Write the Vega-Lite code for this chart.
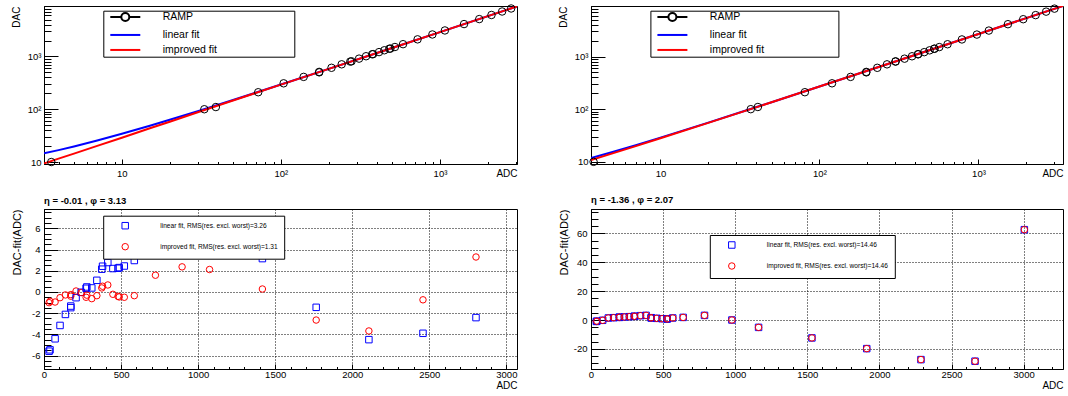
{
  "$schema": "https://vega.github.io/schema/vega-lite/v6.json",
  "background": "white",
  "padding": {"left": 10, "top": 0, "right": 0, "bottom": 0},
  "config": {
    "font": "Liberation Sans",
    "view": {"stroke": "black", "strokeWidth": 1},
    "axis": {
      "domainColor": "black", "domainWidth": 1, "tickColor": "black", "tickWidth": 1,
      "labelColor": "black", "labelFontSize": 9.5, "labelFont": "Liberation Sans",
      "titleColor": "black", "titleFontSize": 10, "titleFontWeight": "normal", "titleFont": "Liberation Sans",
      "labelOverlap": false, "labelFlush": false, "labelBound": false,
      "gridColor": "black", "gridDash": [1, 2], "gridOpacity": 1, "gridWidth": 1
    },
    "legend": {"labelFont": "Liberation Sans", "labelColor": "black"},
    "title": {"font": "Liberation Sans", "color": "black"}
  },
  "datasets": {
    "left": [
      {"adc": 3.6, "dac": 10, "lin": null, "imp": null},
      {"adc": 33, "dac": 100, "lin": -5.59, "imp": -1.01},
      {"adc": 39, "dac": 110, "lin": -5.46, "imp": -0.88},
      {"adc": 72, "dac": 210, "lin": -4.42, "imp": -0.95},
      {"adc": 104, "dac": 310, "lin": -3.16, "imp": -0.54},
      {"adc": 139, "dac": 410, "lin": -2.12, "imp": -0.28},
      {"adc": 174, "dac": 500, "lin": -1.48, "imp": -0.25},
      {"adc": 174, "dac": 510, "lin": -1.33, "imp": -0.4},
      {"adc": 208, "dac": 610, "lin": -0.54, "imp": 0.09},
      {"adc": 241, "dac": 710, "lin": -0.03, "imp": -0.06},
      {"adc": 273, "dac": 800, "lin": 0.35, "imp": -0.5},
      {"adc": 278, "dac": 810, "lin": 0.47, "imp": -0.3},
      {"adc": 310, "dac": 910, "lin": 0.38, "imp": -0.63},
      {"adc": 343, "dac": 1010, "lin": 1.1, "imp": -0.35},
      {"adc": 375, "dac": 1100, "lin": 2.15, "imp": 0.38},
      {"adc": 380, "dac": 1110, "lin": 2.43, "imp": 0.54},
      {"adc": 414, "dac": 1210, "lin": 2.78, "imp": 0.66},
      {"adc": 447, "dac": 1310, "lin": 2.21, "imp": -0.22},
      {"adc": 480, "dac": 1400, "lin": 2.24, "imp": -0.41},
      {"adc": 488, "dac": 1410, "lin": 2.3, "imp": -0.47},
      {"adc": 521, "dac": 1510, "lin": 2.45, "imp": -0.5},
      {"adc": 586, "dac": 1710, "lin": 2.97, "imp": -0.35},
      {"adc": 723, "dac": 2110, "lin": 5.0, "imp": 1.58},
      {"adc": 896, "dac": 2610, "lin": 6.0, "imp": 2.37},
      {"adc": 1074, "dac": 3110, "lin": 5.7, "imp": 2.12},
      {"adc": 1417, "dac": 4110, "lin": 3.15, "imp": 0.28},
      {"adc": 1766, "dac": 5110, "lin": -1.45, "imp": -2.65},
      {"adc": 2108, "dac": 6110, "lin": -4.5, "imp": -3.68},
      {"adc": 2459, "dac": 7110, "lin": -3.9, "imp": -0.74},
      {"adc": 2803, "dac": 8110, "lin": -2.42, "imp": 3.3}
    ],
    "right": [
      {"adc": 3.8, "dac": 10, "lin": null, "imp": null},
      {"adc": 37, "dac": 100, "lin": -1.0, "imp": -1.0},
      {"adc": 41, "dac": 110, "lin": -0.8, "imp": -0.8},
      {"adc": 81, "dac": 210, "lin": -0.2, "imp": -0.2},
      {"adc": 120, "dac": 310, "lin": 1.4, "imp": 1.4},
      {"adc": 157, "dac": 410, "lin": 1.6, "imp": 1.6},
      {"adc": 197, "dac": 500, "lin": 1.8, "imp": 1.8},
      {"adc": 197, "dac": 510, "lin": 2.0, "imp": 2.0},
      {"adc": 231, "dac": 610, "lin": 2.1, "imp": 2.1},
      {"adc": 266, "dac": 710, "lin": 2.3, "imp": 2.3},
      {"adc": 301, "dac": 800, "lin": 2.5, "imp": 2.5},
      {"adc": 301, "dac": 810, "lin": 2.6, "imp": 2.6},
      {"adc": 343, "dac": 910, "lin": 3.0, "imp": 3.0},
      {"adc": 382, "dac": 1010, "lin": 3.2, "imp": 3.2},
      {"adc": 417, "dac": 1100, "lin": 1.4, "imp": 1.4},
      {"adc": 417, "dac": 1110, "lin": 1.6, "imp": 1.6},
      {"adc": 456, "dac": 1210, "lin": 1.15, "imp": 1.15},
      {"adc": 493, "dac": 1310, "lin": 0.9, "imp": 0.9},
      {"adc": 528, "dac": 1400, "lin": 0.7, "imp": 0.7},
      {"adc": 528, "dac": 1410, "lin": 0.8, "imp": 0.8},
      {"adc": 567, "dac": 1510, "lin": 1.4, "imp": 1.4},
      {"adc": 639, "dac": 1710, "lin": 1.8, "imp": 1.8},
      {"adc": 787, "dac": 2110, "lin": 3.2, "imp": 3.2},
      {"adc": 977, "dac": 2610, "lin": 0.0, "imp": 0.0},
      {"adc": 1162, "dac": 3110, "lin": -5.1, "imp": -5.1},
      {"adc": 1532, "dac": 4110, "lin": -12.4, "imp": -12.4},
      {"adc": 1912, "dac": 5110, "lin": -19.8, "imp": -19.8},
      {"adc": 2288, "dac": 6110, "lin": -27.4, "imp": -27.4},
      {"adc": 2663, "dac": 7110, "lin": -28.5, "imp": -28.5},
      {"adc": 3005, "dac": 8110, "lin": 62.5, "imp": 62.5}
    ],
    "linLeft": [
      {"adc": 3.24, "dac": 14.6}, {"adc": 4, "dac": 16.8}, {"adc": 5, "dac": 19.7},
      {"adc": 7, "dac": 25.5}, {"adc": 10, "dac": 34.2}, {"adc": 15, "dac": 48.6},
      {"adc": 20, "dac": 63}, {"adc": 30, "dac": 91.9}, {"adc": 50, "dac": 149.6},
      {"adc": 70, "dac": 207}, {"adc": 100, "dac": 294}, {"adc": 200, "dac": 582},
      {"adc": 500, "dac": 1448}, {"adc": 1000, "dac": 2890}, {"adc": 3050, "dac": 8900}
    ],
    "impLeft": [
      {"adc": 3.24, "dac": 9.4}, {"adc": 4, "dac": 11.6}, {"adc": 5, "dac": 14.4},
      {"adc": 7, "dac": 20.2}, {"adc": 10, "dac": 28.9}, {"adc": 15, "dac": 43.5},
      {"adc": 20, "dac": 58}, {"adc": 30, "dac": 87.5}, {"adc": 50, "dac": 146.5},
      {"adc": 70, "dac": 205}, {"adc": 100, "dac": 293}, {"adc": 200, "dac": 582},
      {"adc": 500, "dac": 1448}, {"adc": 1000, "dac": 2890}, {"adc": 3050, "dac": 8900}
    ],
    "linRight": [
      {"adc": 3.66, "dac": 11.8}, {"adc": 5, "dac": 15.4}, {"adc": 7, "dac": 20.7},
      {"adc": 10, "dac": 28.8}, {"adc": 20, "dac": 55.5}, {"adc": 50, "dac": 135.8},
      {"adc": 100, "dac": 269.5}, {"adc": 300, "dac": 804.5}, {"adc": 1000, "dac": 2677},
      {"adc": 3400, "dac": 9097}
    ],
    "impRight": [
      {"adc": 3.66, "dac": 10.8}, {"adc": 5, "dac": 14.5}, {"adc": 7, "dac": 19.9},
      {"adc": 10, "dac": 28.1}, {"adc": 20, "dac": 55}, {"adc": 50, "dac": 135.4},
      {"adc": 100, "dac": 269.2}, {"adc": 300, "dac": 804.3}, {"adc": 1000, "dac": 2677},
      {"adc": 3400, "dac": 9097}
    ]
  },
  "resolve": {
    "scale": {"color": "independent", "shape": "independent"},
    "legend": {"color": "independent", "shape": "independent"}
  },
  "columns": 2,
  "spacing": {"row": 45, "column": 74},
  "bounds": "flush",
  "concat": [
    {
      "width": 473, "height": 158,
      "encoding": {
        "x": {"field": "adc", "type": "quantitative",
          "scale": {"type": "log", "domain": [3.24, 3050], "nice": false},
          "axis": {
            "values": [4,5,6,7,8,9,10,20,30,40,50,60,70,80,90,100,200,300,400,500,600,700,800,900,1000,2000,3000],
            "labelExpr": "datum.value == 10 ? '10' : datum.value == 100 ? '10²' : datum.value == 1000 ? '10³' : ''",
            "tickSize": {"condition": {"test": "datum.value == 10 || datum.value == 100 || datum.value == 1000", "value": -5}, "value": -2.5},
            "labelPadding": 9.5, "grid": false,
            "title": "ADC", "titleAnchor": "end", "titleAlign": "right", "titleBaseline": "middle", "titleX": 473, "titleY": 9
          }},
        "y": {"field": "dac", "type": "quantitative",
          "scale": {"type": "log", "domain": [9.17, 9040], "nice": false},
          "axis": {
            "values": [10,20,30,40,50,60,70,80,90,100,200,300,400,500,600,700,800,900,1000,2000,3000,4000,5000,6000,7000,8000,9000],
            "labelExpr": "datum.value == 10 ? '10' : datum.value == 100 ? '10²' : datum.value == 1000 ? '10³' : ''",
            "tickSize": {"condition": {"test": "datum.value == 10 || datum.value == 100 || datum.value == 1000", "value": -14}, "value": -7},
            "labelPadding": 17, "grid": false,
            "title": "DAC", "titleAnchor": "end", "titleAlign": "right", "titleAngle": 270, "titleBaseline": "middle", "titleX": -28, "titleY": 0
          }}
      },
      "layer": [
        {"data": {"name": "linLeft"}, "mark": {"type": "line", "strokeWidth": 2, "clip": true},
          "encoding": {"color": {"datum": "linear fit", "type": "nominal",
            "scale": {"domain": ["RAMP", "linear fit", "improved fit"], "range": ["#000000", "#0000ff", "#ff0000"]},
            "legend": {
              "title": null, "orient": "none", "legendX": 59.3, "legendY": 4.7,
              "fillColor": "white", "strokeColor": "black", "padding": 1, "rowPadding": 4,
              "symbolSize": 64, "symbolStrokeWidth": 2, "symbolOffset": 15.75, "labelOffset": 32.2,
              "labelFontSize": 10.5, "labelLimit": 400,
              "labelExpr": "datum.label + '\u00a0\u00a0\u00a0\u00a0\u00a0\u00a0\u00a0\u00a0\u00a0\u00a0\u00a0\u00a0\u00a0\u00a0\u00a0\u00a0\u00a0\u00a0\u00a0\u00a0\u00a0\u00a0\u00a0\u00a0\u00a0\u00a0\u200b'",
              "encode": {"symbols": {"update": {
                "shape": {"signal": "datum.value === 'RAMP' ? 'M-3.75,0H-1M1,0H3.75M1,0A1,1,0,1,1,-1,0A1,1,0,1,1,1,0' : 'M-3.75,0H3.75'"},
                "fill": {"value": "transparent"}}}}
            }}}},
        {"data": {"name": "impLeft"}, "mark": {"type": "line", "strokeWidth": 2, "clip": true},
          "encoding": {"color": {"datum": "improved fit", "type": "nominal"}}},
        {"data": {"name": "left"}, "mark": {"type": "point", "shape": "circle", "filled": false, "size": 56, "strokeWidth": 1, "opacity": 1},
          "encoding": {"color": {"datum": "RAMP", "type": "nominal"}}}
      ]
    },
    {
      "width": 472, "height": 158,
      "encoding": {
        "x": {"field": "adc", "type": "quantitative",
          "scale": {"type": "log", "domain": [3.66, 3400], "nice": false},
          "axis": {
            "values": [4,5,6,7,8,9,10,20,30,40,50,60,70,80,90,100,200,300,400,500,600,700,800,900,1000,2000,3000],
            "labelExpr": "datum.value == 10 ? '10' : datum.value == 100 ? '10²' : datum.value == 1000 ? '10³' : ''",
            "tickSize": {"condition": {"test": "datum.value == 10 || datum.value == 100 || datum.value == 1000", "value": -5}, "value": -2.5},
            "labelPadding": 9.5, "grid": false,
            "title": "ADC", "titleAnchor": "end", "titleAlign": "right", "titleBaseline": "middle", "titleX": 472, "titleY": 9
          }},
        "y": {"field": "dac", "type": "quantitative",
          "scale": {"type": "log", "domain": [9.1, 9100], "nice": false},
          "axis": {
            "values": [10,20,30,40,50,60,70,80,90,100,200,300,400,500,600,700,800,900,1000,2000,3000,4000,5000,6000,7000,8000,9000],
            "labelExpr": "datum.value == 10 ? '10' : datum.value == 100 ? '10²' : datum.value == 1000 ? '10³' : ''",
            "tickSize": {"condition": {"test": "datum.value == 10 || datum.value == 100 || datum.value == 1000", "value": -14}, "value": -7},
            "labelPadding": 17, "grid": false,
            "title": "DAC", "titleAnchor": "end", "titleAlign": "right", "titleAngle": 270, "titleBaseline": "middle", "titleX": -28, "titleY": 0
          }}
      },
      "layer": [
        {"data": {"name": "linRight"}, "mark": {"type": "line", "strokeWidth": 2, "clip": true},
          "encoding": {"color": {"datum": "linear fit", "type": "nominal",
            "scale": {"domain": ["RAMP", "linear fit", "improved fit"], "range": ["#000000", "#0000ff", "#ff0000"]},
            "legend": {
              "title": null, "orient": "none", "legendX": 59.4, "legendY": 4.7,
              "fillColor": "white", "strokeColor": "black", "padding": 1, "rowPadding": 4,
              "symbolSize": 64, "symbolStrokeWidth": 2, "symbolOffset": 15.75, "labelOffset": 32.2,
              "labelFontSize": 10.5, "labelLimit": 400,
              "labelExpr": "datum.label + '\u00a0\u00a0\u00a0\u00a0\u00a0\u00a0\u00a0\u00a0\u00a0\u00a0\u00a0\u00a0\u00a0\u00a0\u00a0\u00a0\u00a0\u00a0\u00a0\u00a0\u00a0\u00a0\u00a0\u00a0\u00a0\u200b'",
              "encode": {"symbols": {"update": {
                "shape": {"signal": "datum.value === 'RAMP' ? 'M-3.75,0H-1M1,0H3.75M1,0A1,1,0,1,1,-1,0A1,1,0,1,1,1,0' : 'M-3.75,0H3.75'"},
                "fill": {"value": "transparent"}}}}
            }}}},
        {"data": {"name": "impRight"}, "mark": {"type": "line", "strokeWidth": 2, "clip": true},
          "encoding": {"color": {"datum": "improved fit", "type": "nominal"}}},
        {"data": {"name": "right"}, "mark": {"type": "point", "shape": "circle", "filled": false, "size": 56, "strokeWidth": 1, "opacity": 1},
          "encoding": {"color": {"datum": "RAMP", "type": "nominal"}}}
      ]
    },
    {
      "width": 473, "height": 160,
      "title": {"text": "η = -0.01 , φ = 3.13", "anchor": "start", "frame": "group", "fontSize": 9.5, "fontWeight": "bold", "offset": 2},
      "data": {"name": "left"},
      "transform": [{"fold": ["lin", "imp"], "as": ["fit", "res"]}],
      "mark": {"type": "point", "filled": false, "size": 42, "strokeWidth": 1, "opacity": 1},
      "encoding": {
        "x": {"field": "adc", "type": "quantitative",
          "scale": {"domain": [0, 3069], "nice": false, "zero": false},
          "axis": {
            "values": [0,100,200,300,400,500,600,700,800,900,1000,1100,1200,1300,1400,1500,1600,1700,1800,1900,2000,2100,2200,2300,2400,2500,2600,2700,2800,2900,3000],
            "labelExpr": "datum.value % 500 == 0 ? '' + datum.value : ''",
            "tickSize": {"condition": {"test": "datum.value % 500 == 0", "value": -5}, "value": -2.5},
            "labelPadding": 5, "grid": true,
            "gridOpacity": {"condition": {"test": "datum.value % 500 == 0", "value": 1}, "value": 0},
            "title": "ADC", "titleAnchor": "end", "titleAlign": "right", "titleBaseline": "middle", "titleX": 473, "titleY": 16
          }},
        "y": {"field": "res", "type": "quantitative",
          "scale": {"domain": [-7.27, 7.83], "nice": false, "zero": false},
          "axis": {
            "values": [-7,-6.5,-6,-5.5,-5,-4.5,-4,-3.5,-3,-2.5,-2,-1.5,-1,-0.5,0,0.5,1,1.5,2,2.5,3,3.5,4,4.5,5,5.5,6,6.5,7,7.5],
            "labelExpr": "datum.value % 2 == 0 ? '' + datum.value : ''",
            "tickSize": {"condition": {"test": "datum.value % 2 == 0", "value": -14}, "value": -7},
            "labelPadding": 18, "grid": true,
            "gridOpacity": {"condition": {"test": "datum.value % 2 == 0", "value": 1}, "value": 0},
            "title": "DAC-fit(ADC)", "titleFontSize": 11, "titleAnchor": "end", "titleAlign": "right", "titleAngle": 270, "titleBaseline": "middle", "titleX": -27, "titleY": 0
          }},
        "color": {"field": "fit", "type": "nominal",
          "scale": {"domain": ["lin", "imp"], "range": ["#0000ff", "#ff0000"]},
          "legend": {
            "title": null, "orient": "none", "legendX": 59.2, "legendY": 6.7,
            "fillColor": "white", "strokeColor": "black", "padding": 6, "rowPadding": 9,
            "symbolSize": 42, "symbolStrokeWidth": 1, "symbolOffset": 12, "labelOffset": 31,
            "labelFontSize": 6.6, "labelLimit": 400,
            "labelExpr": "datum.label == 'lin' ? 'linear fit, RMS(res. excl. worst)=3.26' : 'improved fit, RMS(res. excl. worst)=1.31'"
          }},
        "shape": {"field": "fit", "type": "nominal",
          "scale": {"domain": ["lin", "imp"], "range": ["square", "circle"]},
          "legend": {
            "title": null, "orient": "none", "legendX": 59.2, "legendY": 6.7,
            "fillColor": "white", "strokeColor": "black", "padding": 6, "rowPadding": 9,
            "symbolSize": 42, "symbolStrokeWidth": 1, "symbolOffset": 12, "labelOffset": 31,
            "labelFontSize": 6.6, "labelLimit": 400,
            "labelExpr": "datum.label == 'lin' ? 'linear fit, RMS(res. excl. worst)=3.26' : 'improved fit, RMS(res. excl. worst)=1.31'"
          }}
      }
    },
    {
      "width": 472, "height": 160,
      "title": {"text": "η = -1.36 , φ = 2.07", "anchor": "start", "frame": "group", "fontSize": 9.5, "fontWeight": "bold", "offset": 2},
      "data": {"name": "right"},
      "transform": [{"fold": ["lin", "imp"], "as": ["fit", "res"]}],
      "mark": {"type": "point", "filled": false, "size": 42, "strokeWidth": 1, "opacity": 1},
      "encoding": {
        "x": {"field": "adc", "type": "quantitative",
          "scale": {"domain": [0, 3273], "nice": false, "zero": false},
          "axis": {
            "values": [0,100,200,300,400,500,600,700,800,900,1000,1100,1200,1300,1400,1500,1600,1700,1800,1900,2000,2100,2200,2300,2400,2500,2600,2700,2800,2900,3000,3100,3200],
            "labelExpr": "datum.value % 500 == 0 ? '' + datum.value : ''",
            "tickSize": {"condition": {"test": "datum.value % 500 == 0", "value": -5}, "value": -2.5},
            "labelPadding": 5, "grid": true,
            "gridOpacity": {"condition": {"test": "datum.value % 500 == 0", "value": 1}, "value": 0},
            "title": "ADC", "titleAnchor": "end", "titleAlign": "right", "titleBaseline": "middle", "titleX": 472, "titleY": 16
          }},
        "y": {"field": "res", "type": "quantitative",
          "scale": {"domain": [-33.9, 76.8], "nice": false, "zero": false},
          "axis": {
            "values": [-30,-25,-20,-15,-10,-5,0,5,10,15,20,25,30,35,40,45,50,55,60,65,70,75],
            "labelExpr": "datum.value % 20 == 0 ? '' + datum.value : ''",
            "tickSize": {"condition": {"test": "datum.value % 20 == 0", "value": -14}, "value": -7},
            "labelPadding": 18, "grid": true,
            "gridOpacity": {"condition": {"test": "datum.value % 20 == 0", "value": 1}, "value": 0},
            "title": "DAC-fit(ADC)", "titleFontSize": 11, "titleAnchor": "end", "titleAlign": "right", "titleAngle": 270, "titleBaseline": "middle", "titleX": -27, "titleY": 0
          }},
        "color": {"field": "fit", "type": "nominal",
          "scale": {"domain": ["lin", "imp"], "range": ["#0000ff", "#ff0000"]},
          "legend": {
            "title": null, "orient": "none", "legendX": 118.8, "legendY": 26,
            "fillColor": "white", "strokeColor": "black", "padding": 6, "rowPadding": 9,
            "symbolSize": 42, "symbolStrokeWidth": 1, "symbolOffset": 12, "labelOffset": 31,
            "labelFontSize": 6.6, "labelLimit": 400,
            "labelExpr": "datum.label == 'lin' ? 'linear fit, RMS(res. excl. worst)=14.46' : 'improved fit, RMS(res. excl. worst)=14.46'"
          }},
        "shape": {"field": "fit", "type": "nominal",
          "scale": {"domain": ["lin", "imp"], "range": ["square", "circle"]},
          "legend": {
            "title": null, "orient": "none", "legendX": 118.8, "legendY": 26,
            "fillColor": "white", "strokeColor": "black", "padding": 6, "rowPadding": 9,
            "symbolSize": 42, "symbolStrokeWidth": 1, "symbolOffset": 12, "labelOffset": 31,
            "labelFontSize": 6.6, "labelLimit": 400,
            "labelExpr": "datum.label == 'lin' ? 'linear fit, RMS(res. excl. worst)=14.46' : 'improved fit, RMS(res. excl. worst)=14.46'"
          }}
      }
    }
  ]
}
